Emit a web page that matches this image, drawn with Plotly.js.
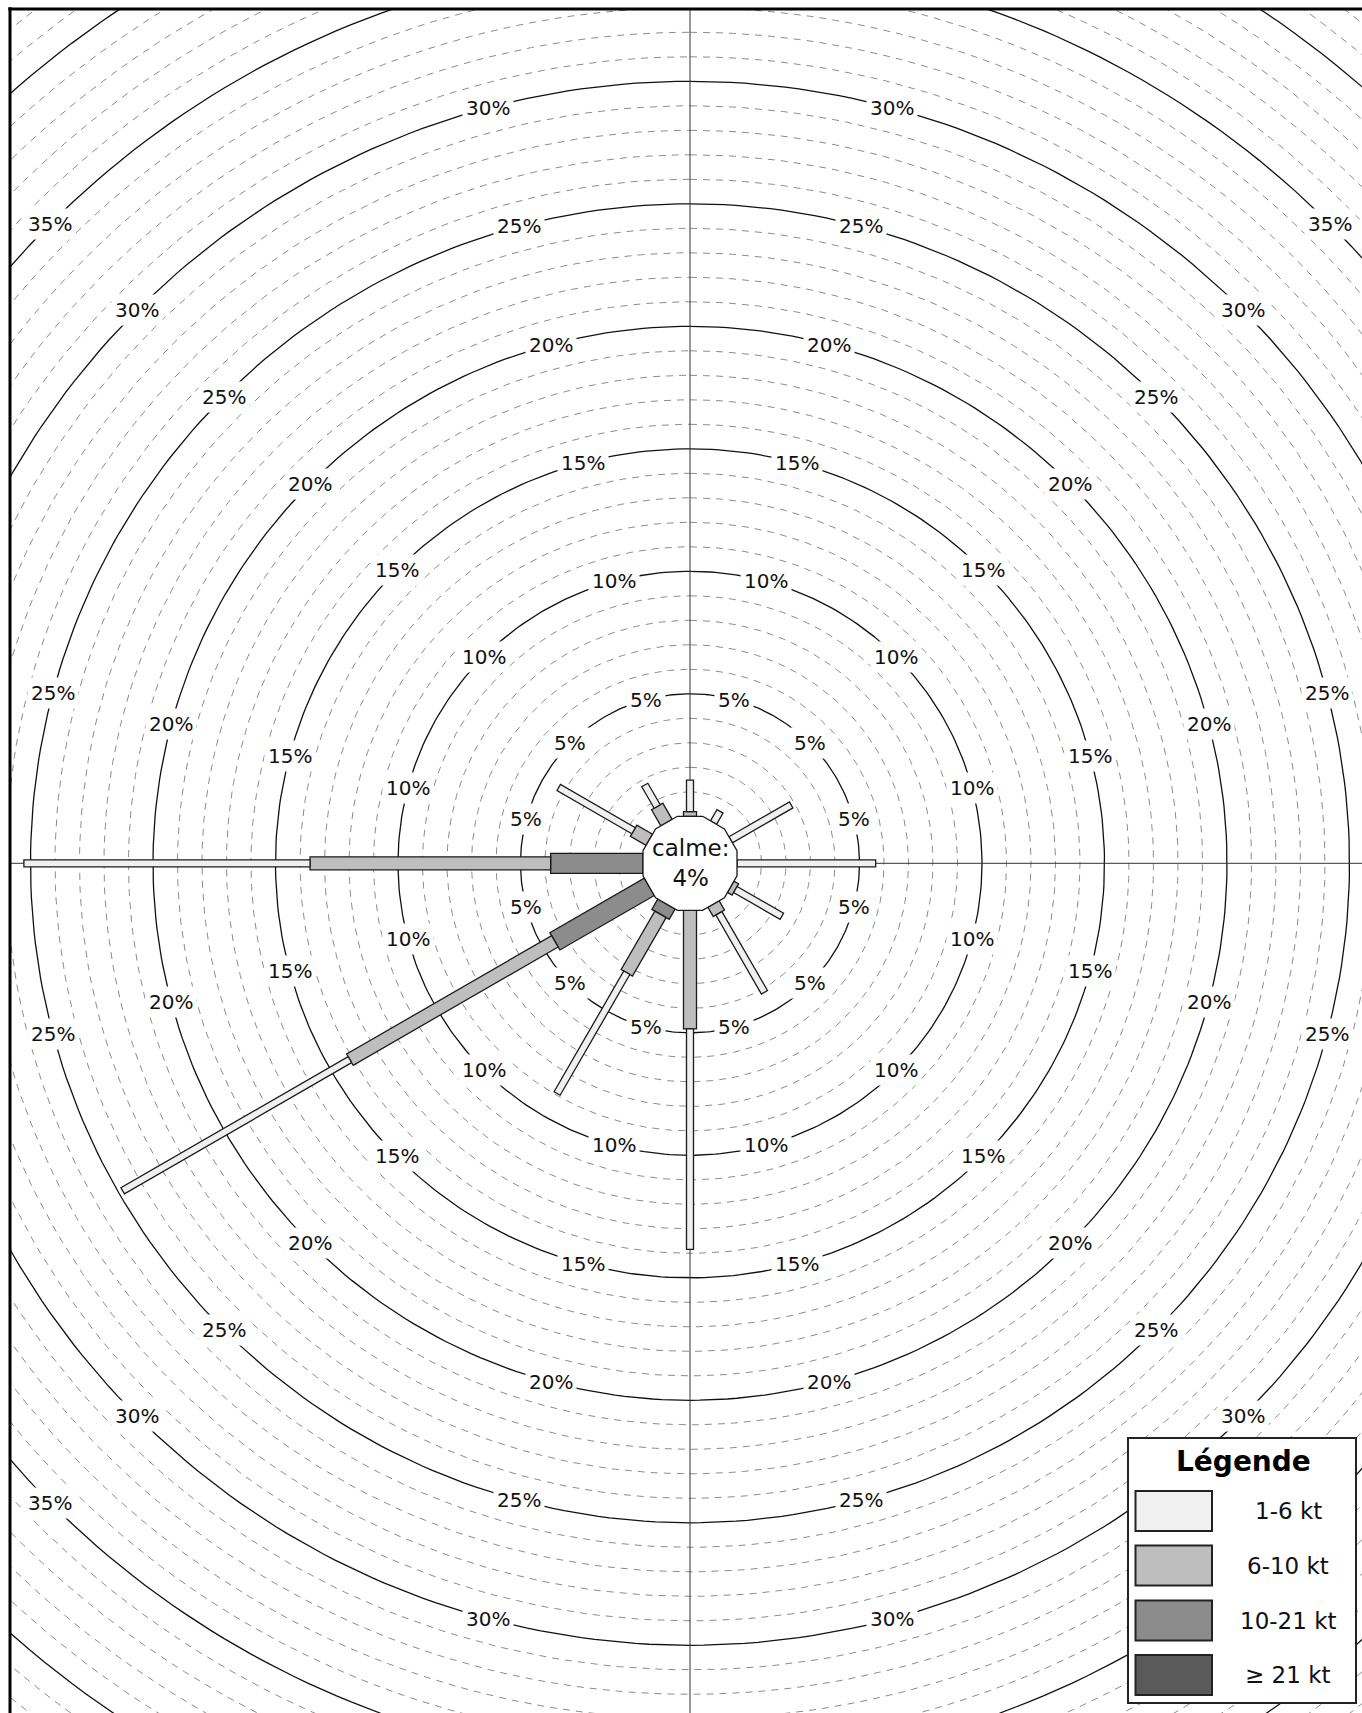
<!DOCTYPE html>
<html><head><meta charset="utf-8">
<script src="https://cdn.plot.ly/plotly-3.0.1.min.js"></script>
<style>html,body{margin:0;padding:0;background:#fff;overflow:hidden}#chart{width:1362px;height:1713px}</style>
</head><body><div id="chart"></div>
<script>
// ---------------- data ----------------
const directions = [0, 30, 60, 90, 120, 150, 180, 210, 240, 270, 300, 330];
const speedClasses = ['1-6 kt', '6-10 kt', '10-21 kt', '\u2265 21 kt'];
const freq_1_6   = [1.29, 0.53, 2.85, 5.66, 2.19, 3.72, 9.00, 5.69, 10.71, 11.68, 3.53, 1.01];
const freq_6_10  = [0.19, 0, 0, 0, 0.22, 0.44, 4.84, 2.75, 9.66, 9.82, 0.74, 0.76];
const freq_10_21 = [0, 0, 0, 0, 0, 0, 0, 0.49, 4.45, 3.77, 0, 0];
const freq_21    = [0, 0, 0, 0, 0, 0, 0, 0, 0, 0, 0, 0];
const calmPct = 4;
const ringLabels = [5, 10, 15, 20, 25, 30, 35, 40];
const labelAngles = [15, 45, 75, 105, 135, 165, 195, 225, 255, 285, 315, 345];

// ---------------- geometry / style ----------------
const W = 1362, HGT = 1713, ML = 10, MT = 9;
const CX = 690, CY = 863.3;
const PX = 24.5;              // pixels per 1 %
const HOLE = 47 / PX;         // radius of calm polygon (apothem) in % units
const xr = [(ML - CX) / PX, (W - CX) / PX];
const yr = [(CY - HGT) / PX, (CY - MT) / PX];
const FONT = 'DejaVu Sans, Verdana, sans-serif';

const classColors = ['#f0f0f0', '#bebebe', '#8c8c8c', '#5a5a5a'];
const classWidthPx = [7, 13, 20, 27];
const seriesByClass = [freq_1_6, freq_6_10, freq_10_21, freq_21];

// legend box in pixels
const LEG = {x0: 1128, x1: 1356, y0: 1438, y1: 1703};

function pt(d, o, th) {
  const t = th * Math.PI / 180;
  return [d * Math.sin(t) + o * Math.cos(t), d * Math.cos(t) - o * Math.sin(t)];
}

const traces = [];

// grid circles
const dashX = [], dashY = [], solX = [], solY = [];
for (let r = 1; r <= 45; r++) {
  const R = HOLE + r;
  const X = r % 5 === 0 ? solX : dashX, Y = r % 5 === 0 ? solY : dashY;
  for (let a = 0; a <= 360; a += 1) {
    const t = a * Math.PI / 180;
    X.push(R * Math.sin(t)); Y.push(R * Math.cos(t));
  }
  X.push(null); Y.push(null);
}
traces.push({type: 'scatter', mode: 'lines', x: dashX, y: dashY, hoverinfo: 'skip',
  line: {color: '#8c8c8c', width: 1, dash: '7px,6px'}});
traces.push({type: 'scatter', mode: 'lines', x: solX, y: solY, hoverinfo: 'skip',
  line: {color: '#111', width: 1.3}});

// cross axes
traces.push({type: 'scatter', mode: 'lines', x: [xr[0], xr[1], null, 0, 0], y: [0, 0, null, yr[0], yr[1]],
  hoverinfo: 'skip', line: {color: '#333', width: 1}});

// stacked bars: from centre outward: >=21, 10-21, 6-10, 1-6
const order = [3, 2, 1, 0];
const cum = directions.map(() => 0);
order.forEach(k => {
  const xs = [], ys = [];
  const w = classWidthPx[k] / 2 / PX;
  directions.forEach((th, i) => {
    const v = seriesByClass[k][i];
    const r1 = HOLE + cum[i], r2 = HOLE + cum[i] + v;
    if (v > 0) {
      [[r1, -w], [r2, -w], [r2, w], [r1, w], [r1, -w]].forEach(([d, o]) => {
        const p = pt(d, o, th); xs.push(p[0]); ys.push(p[1]);
      });
      xs.push(null); ys.push(null);
    }
    cum[i] += v;
  });
  traces.push({type: 'scatter', mode: 'lines', name: speedClasses[k], x: xs, y: ys,
    fill: 'toself', fillcolor: classColors[k], hoverinfo: 'skip',
    line: {color: '#1a1a1a', width: 1.3}});
});

// calm polygon (12-gon, flat edges facing the 12 directions)
const polyX = [], polyY = [];
const Rv = HOLE / Math.cos(15 * Math.PI / 180);
for (let k = 0; k <= 12; k++) {
  const t = (15 + 30 * k) * Math.PI / 180;
  polyX.push(Rv * Math.sin(t)); polyY.push(Rv * Math.cos(t));
}
traces.push({type: 'scatter', mode: 'lines', x: polyX, y: polyY, fill: 'toself',
  fillcolor: '#ffffff', hoverinfo: 'skip', line: {color: '#1a1a1a', width: 1.3}});

// annotations
const annotations = [];
ringLabels.forEach(v => {
  labelAngles.forEach(a => {
    const p = pt(HOLE + v, 0, a);
    if (p[0] < xr[0] || p[0] > xr[1] || p[1] < yr[0] || p[1] > yr[1]) return;
    const px = CX + p[0] * PX, py = CY - p[1] * PX;
    if (px > LEG.x0 - 25 && py > LEG.y0 - 12) return;   // hidden behind legend box
    annotations.push({x: p[0], y: p[1], xref: 'x', yref: 'y', text: v + '%', showarrow: false,
      xanchor: 'center', yanchor: 'middle',
      bgcolor: '#ffffff', borderpad: 3, font: {family: FONT, size: 20, color: '#111'}});
  });
});
annotations.push({x: 0, y: 0, xref: 'x', yref: 'y', text: 'calme:<br>' + calmPct + '%', showarrow: false,
  xanchor: 'center', yanchor: 'middle', font: {family: FONT, size: 23, color: '#111'}});

// legend (drawn box)
const pX = px => (px - ML) / (W - ML);
const pY = py => (HGT - py) / (HGT - MT);
const shapes = [
  {type: 'line', xref: 'paper', yref: 'paper', x0: 0, x1: 0, y0: -0.01, y1: 1.001, line: {color: '#000', width: 3}},
  {type: 'line', xref: 'paper', yref: 'paper', x0: -0.0012, x1: 1.01, y0: 1, y1: 1, line: {color: '#000', width: 3}},
  {type: 'rect', xref: 'paper', yref: 'paper', x0: pX(LEG.x0), x1: pX(LEG.x1), y0: pY(LEG.y1), y1: pY(LEG.y0),
    fillcolor: '#ffffff', line: {color: '#222', width: 2}, layer: 'above'}
];
annotations.push({xref: 'paper', yref: 'paper', x: pX(1243), y: pY(1461), text: '<b>L\u00e9gende</b>',
  xanchor: 'center', yanchor: 'middle',
  showarrow: false, font: {family: FONT, size: 28, color: '#000'}});
const swY = [1491, 1545.5, 1600.5, 1655];
speedClasses.forEach((name, k) => {
  shapes.push({type: 'rect', xref: 'paper', yref: 'paper', x0: pX(1135.5), x1: pX(1212), y0: pY(swY[k] + 40), y1: pY(swY[k]),
    fillcolor: classColors[k], line: {color: '#222', width: 2}, layer: 'above'});
  annotations.push({xref: 'paper', yref: 'paper', x: pX(1288), y: pY(swY[k] + 20), text: name,
    xanchor: 'center', yanchor: 'middle',
    showarrow: false, font: {family: FONT, size: 23, color: '#111'}});
});

const axis = {showgrid: false, zeroline: false, showticklabels: false, showline: false, ticks: '', fixedrange: true};
const layout = {
  width: W, height: HGT,
  margin: {l: ML, t: MT, r: 0, b: 0, pad: 0},
  paper_bgcolor: '#ffffff', plot_bgcolor: '#ffffff',
  showlegend: false,
  xaxis: Object.assign({range: xr}, axis),
  yaxis: Object.assign({range: yr}, axis),
  shapes: shapes, annotations: annotations
};
Plotly.newPlot('chart', traces, layout, {staticPlot: true, displayModeBar: false});
</script></body></html>
